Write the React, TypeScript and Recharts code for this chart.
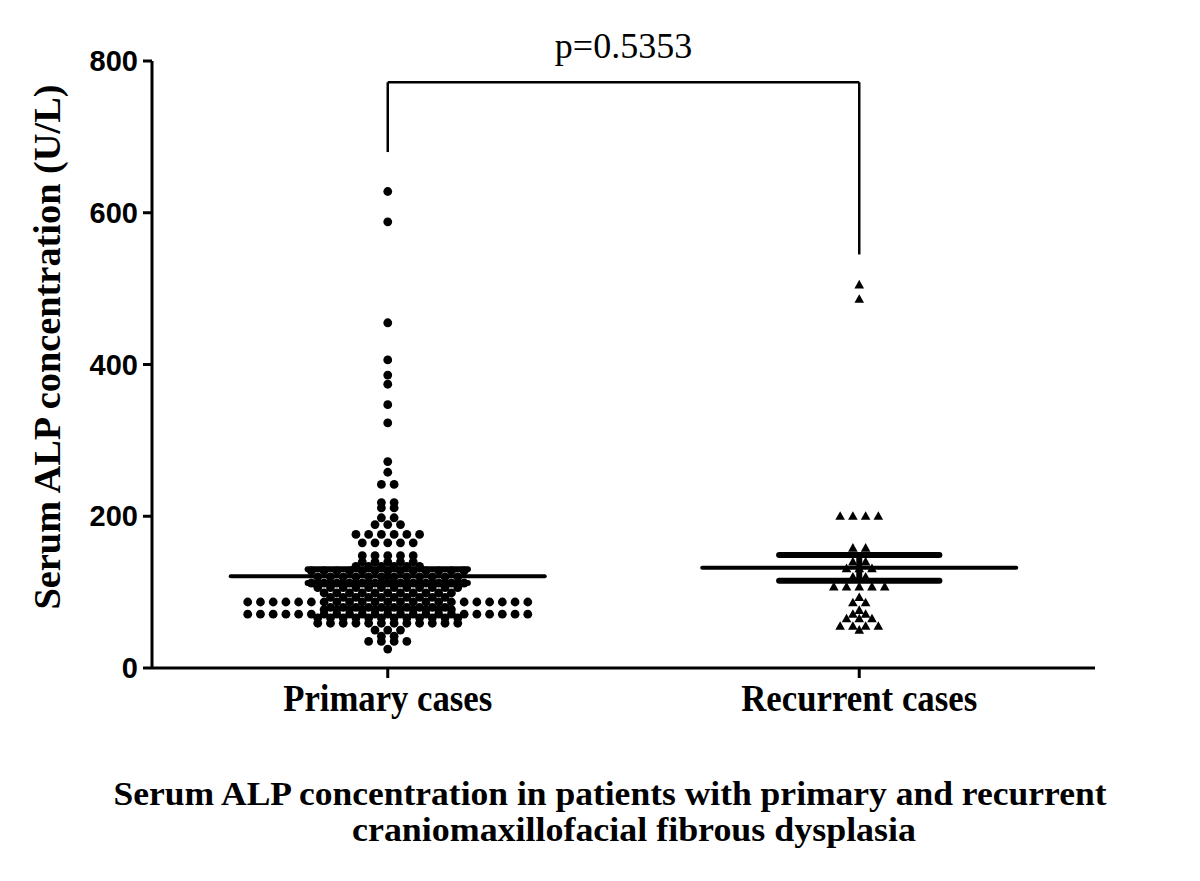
import { ScatterChart, Scatter, XAxis, YAxis, ReferenceLine, Label } from "recharts";

const groupNames = ["Primary cases", "Recurrent cases"];
const groupPositions = [1, 2];
const yTicks = [0, 200, 400, 600, 800];

// [value U/L, number of dots side by side at that value]
const primaryRows: [number, number][] = [
  [628, 1], [588, 1], [455, 1], [406, 1], [386, 1], [374, 1], [347, 1], [323, 1],
  [272, 1], [258, 1], [242, 2], [218, 2], [211, 2], [198, 2], [189, 3], [176, 6],
  [165, 5], [148, 5], [140, 5], [134, 6], [128, 13], [120, 12], [112, 13], [106, 12],
  [99, 11], [93, 10], [87, 23], [80, 10], [77, 11], [71, 23], [66, 12], [59, 12],
  [50, 3], [42, 2], [35, 4], [25, 1],
];
const recurrentRows: [number, number][] = [
  [505, 1], [486, 1], [200, 4], [158, 2], [140, 2], [131, 3], [120, 2], [107, 5],
  [93, 1], [86, 2], [76, 1], [71, 2], [65, 3], [55, 4], [50, 1],
];

const groupMeans = [121, 132];
const groupSems = [9, 17];

const pValueText = "p=0.5353";
const bracketTop = 772;
const bracketLegEnds = [680, 545];

const SLOT = 0.027; // horizontal spacing between dots in a row (x units)
const MEAN_HALF = 0.333;
const CAP_HALF = 0.17;

const serif = '"Liberation Serif", "Times New Roman", serif';
const sans = '"Liberation Sans", Arial, sans-serif';

function spread(rows: [number, number][], center: number) {
  const pts: { x: number; y: number }[] = [];
  rows.forEach(([value, count]) => {
    for (let i = 0; i < count; i++) {
      pts.push({ x: center + (i - (count - 1) / 2) * SLOT, y: value });
    }
  });
  return pts;
}

const primaryPoints = spread(primaryRows, groupPositions[0]);
const recurrentPoints = spread(recurrentRows, groupPositions[1]);

const Dot = (p: any) => <circle cx={p.cx} cy={p.cy} r={4.4} fill="#000" />;
const Tri = (p: any) => (
  <polygon
    points={`${p.cx},${p.cy - 5} ${p.cx + 4.8},${p.cy + 3.6} ${p.cx - 4.8},${p.cy + 3.6}`}
    fill="#000"
  />
);

const XTick = (p: any) => {
  const i = groupPositions.indexOf(p.payload.value);
  const widths = [209, 236];
  return (
    <text
      x={p.x}
      y={p.y + 31}
      textAnchor="middle"
      fontFamily={serif}
      fontWeight="bold"
      fontSize={38}
      textLength={widths[i]}
      lengthAdjust="spacingAndGlyphs"
      fill="#000"
    >
      {groupNames[i]}
    </text>
  );
};

const YTick = (p: any) => (
  <text x={p.x} y={p.y + 10} textAnchor="end" fontFamily={sans} fontWeight="bold" fontSize={29} fill="#000">
    {p.payload.value}
  </text>
);

const TitleLabel = () => (
  <g fontFamily={serif} fontWeight="bold" fontSize={34} fill="#000">
    <text x={610} y={805} textAnchor="middle" textLength={993} lengthAdjust="spacingAndGlyphs">
      Serum ALP concentration in patients with primary and recurrent
    </text>
    <text x={634} y={841} textAnchor="middle" textLength={564} lengthAdjust="spacingAndGlyphs">
      craniomaxillofacial fibrous dysplasia
    </text>
  </g>
);

const YTitle = () => (
  <text
    x={60}
    y={347}
    transform="rotate(-90, 60, 347)"
    textAnchor="middle"
    fontFamily={serif}
    fontWeight="bold"
    fontSize={38}
    textLength={525}
    lengthAdjust="spacingAndGlyphs"
    fill="#000"
  >
    Serum ALP concentration (U/L)
  </text>
);

export default function App() {
  const lines: any[] = [];
  groupPositions.forEach((gx, i) => {
    const m = groupMeans[i];
    const s = groupSems[i];
    lines.push(
      <ReferenceLine key={`mean${i}`} segment={[{ x: gx - MEAN_HALF, y: m }, { x: gx + MEAN_HALF, y: m }]}
        stroke="#000" strokeWidth={4} strokeLinecap="round" />,
      <ReferenceLine key={`hi${i}`} segment={[{ x: gx - CAP_HALF, y: m + s }, { x: gx + CAP_HALF, y: m + s }]}
        stroke="#000" strokeWidth={6} strokeLinecap="round" />,
      <ReferenceLine key={`lo${i}`} segment={[{ x: gx - CAP_HALF, y: m - s }, { x: gx + CAP_HALF, y: m - s }]}
        stroke="#000" strokeWidth={6} strokeLinecap="round" />,
      <ReferenceLine key={`v${i}`} segment={[{ x: gx, y: m - s }, { x: gx, y: m + s }]}
        stroke="#000" strokeWidth={6} />,
      <ReferenceLine key={`leg${i}`} segment={[{ x: gx, y: bracketTop }, { x: gx, y: bracketLegEnds[i] }]}
        stroke="#000" strokeWidth={2.5} />
    );
  });

  return (
    <div style={{ position: "absolute", left: 0, top: 0, background: "#fff" }}>
      <ScatterChart width={1200} height={881} margin={{ top: 61, right: 105, left: 92, bottom: 173 }}>
        <XAxis
          type="number"
          dataKey="x"
          domain={[0.5, 2.5]}
          ticks={groupPositions}
          interval={0}
          tick={<XTick />}
          tickSize={10}
          height={40}
          axisLine={{ stroke: "#000", strokeWidth: 3 }}
          tickLine={{ stroke: "#000", strokeWidth: 3 }}
        >
          <Label content={<TitleLabel />} />
        </XAxis>
        <YAxis
          type="number"
          dataKey="y"
          domain={[0, 800]}
          ticks={yTicks}
          interval={0}
          width={60}
          tickSize={9}
          tickMargin={5}
          tick={<YTick />}
          axisLine={{ stroke: "#000", strokeWidth: 3 }}
          tickLine={{ stroke: "#000", strokeWidth: 3 }}
        >
          <Label content={<YTitle />} />
        </YAxis>
        <Scatter data={primaryPoints} shape={Dot} isAnimationActive={false} />
        <Scatter data={recurrentPoints} shape={Tri} isAnimationActive={false} />
        {lines}
        <ReferenceLine
          segment={[{ x: groupPositions[0], y: bracketTop }, { x: groupPositions[1], y: bracketTop }]}
          stroke="#000"
          strokeWidth={2.5}
          label={{ value: pValueText, position: "top", offset: 24, fontFamily: serif, fontSize: 36, fill: "#000" }}
        />
      </ScatterChart>
    </div>
  );
}
